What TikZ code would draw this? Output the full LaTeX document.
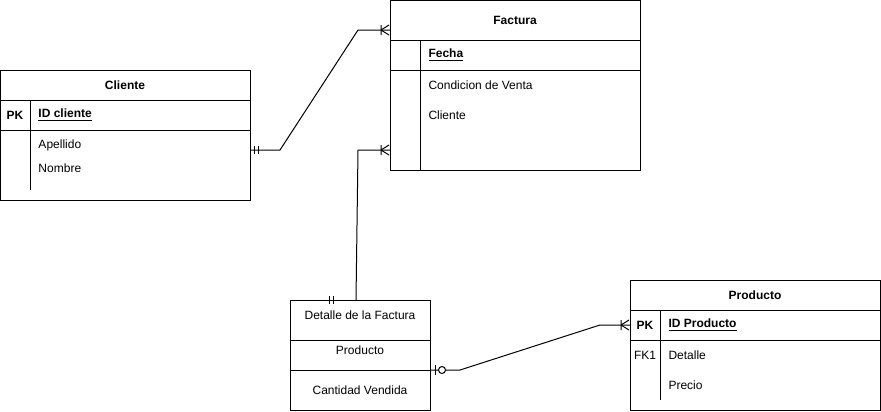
\documentclass[tikz,border=0pt]{standalone}
\usepackage{fontspec}
\setmainfont{Liberation Sans}
\usetikzlibrary{positioning}

\tikzset{
  tbl/.style={draw, inner sep=0pt, outer sep=0pt},
  title/.style={font=\bfseries\fontsize{9}{11}\selectfont},
  field/.style={anchor=west},
  key/.style={font=\bfseries\fontsize{9}{11}\selectfont},
}

\begin{document}
\begin{tikzpicture}[x=0.75pt, y=-0.75pt, line width=0.75pt, every node/.style={font=\fontsize{9}{11}\selectfont, inner sep=0pt}]
\useasboundingbox (0,0) rectangle (881,411);

% Cliente
\node[tbl, minimum width=187.5pt, minimum height=97.5pt] (cliente) at (125,135) {};
\draw (0,100) -- (250,100);
\draw (0,130) -- (250,130);
\draw (30,100) -- (30,190);
\node[title] (clientetit) at (125,85) {Cliente};
\node[key] (clientepk) at (15,115) {PK};
\node[key, field] (idcliente) at (38,115) {\underline{ID cliente}};
\node[field] (apellido) at (38,145) {Apellido};
\node[field] (nombre) at (38,168) {Nombre};

% Factura
\node[tbl, minimum width=187.5pt, minimum height=127.5pt] (factura) at (515,85) {};
\draw (390,40) -- (640,40);
\draw (390,70) -- (640,70);
\draw (420,40) -- (420,170);
\node[title] (facturatit) at (515,20) {Factura};
\node[key, field] (fecha) at (428,55) {\underline{Fecha}};
\node[field] (condicion) at (428,85) {Condicion de Venta};
\node[field] (clientef) at (428,115) {Cliente};

% Detalle de la Factura
\node[tbl, minimum width=105pt, minimum height=82.5pt] (detalle) at (360,355) {};
\draw (290,340) -- (430,340);
\draw (290,370) -- (430,370);
\node (detalletit) at (360,315) {Detalle de la Factura};
\node (productod) at (360,350) {Producto};
\node (cantidad) at (360,390) {Cantidad Vendida};

% Producto
\node[tbl, minimum width=187.5pt, minimum height=97.5pt] (producto) at (755,345) {};
\draw (630,310) -- (880,310);
\draw (630,340) -- (880,340);
\draw (660,310) -- (660,400);
\node[title] (productotit) at (755,295) {Producto};
\node[key] (productopk) at (645,325) {PK};
\node[key, field] (idproducto) at (668,325) {\underline{ID Producto}};
\node (fkone) at (645,355) {FK1};
\node[field] (detallep) at (668,355) {Detalle};
\node[field] (precio) at (668,385) {Precio};

% relaciones
\coordinate (c1) at (250,150);
\coordinate (f1) at (390,30);
\coordinate (d1) at (356,300);
\coordinate (f2) at (390,150);
\coordinate (d2) at (430,370);
\coordinate (p1) at (630,325);

\draw (c1) -- (280,150) -- (358,30) -- (f1);
\draw (254,146) -- (254,154) (258,146) -- (258,154);
\draw (381,25) -- (381,35) (381,30) -- (389,25) (381,30) -- (389,35);

\draw (d1) -- (358,150) -- (f2);
\draw (329,296) -- (329,304) (333,296) -- (333,304);
\draw (381,145) -- (381,155) (381,150) -- (389,145) (381,150) -- (389,155);

\draw (d2) -- (438.5,370) (445.5,370) -- (460,370) -- (600,325) -- (p1);
\draw (435,365) -- (435,375);
\draw (442,370) circle[radius=3.5];
\draw (621,320) -- (621,330) (621,325) -- (629,320) (621,325) -- (629,330);
\end{tikzpicture}
\end{document}
